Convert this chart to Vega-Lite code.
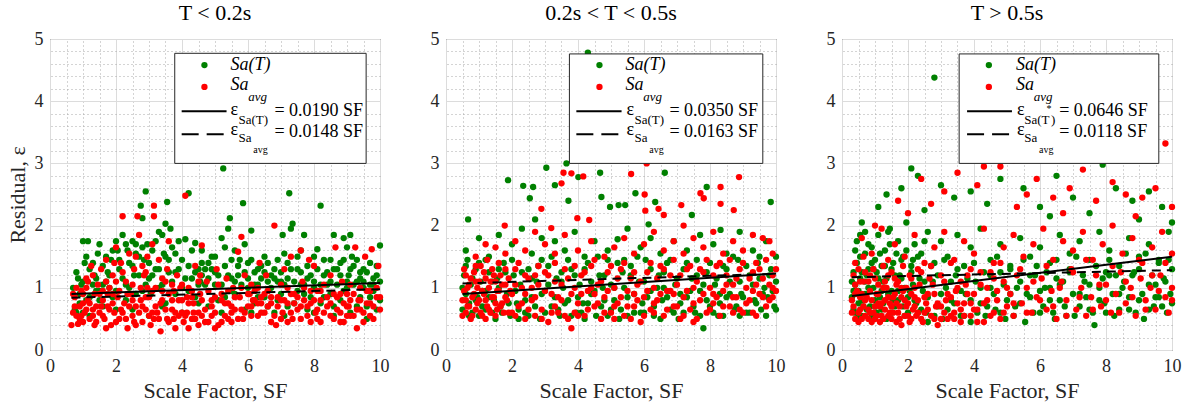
{
"$schema":"https://vega.github.io/schema/vega-lite/v6.json",
"background":"white",
"padding":{"left":5,"top":1,"right":5,"bottom":2},
"bounds":"flush",
"spacing":66,
"config":{
 "font":"Liberation Serif, Times New Roman, serif",
 "text":{"font":"Liberation Serif, Times New Roman, serif","color":"#000000"},
 "view":{"stroke":"#262626","strokeWidth":1},
 "axis":{"labelFont":"Liberation Serif, Times New Roman, serif","labelFontSize":18,"labelColor":"#262626","titleFont":"Liberation Serif, Times New Roman, serif","titleFontSize":22,"titleFontWeight":"normal","titleColor":"#262626","ticks":false,"domain":false,"gridColor":"#dcdcdc","gridOpacity":1,"labelPadding":7,"titlePadding":5,"labelFlush":false},
 "title":{"font":"Liberation Serif, Times New Roman, serif","fontSize":22,"fontWeight":"normal","color":"#000000","offset":5}
},
"datasets":{
"g1":[{"x":0.75,"y":0.65},{"x":0.85,"y":1.15},{"x":0.9,"y":0.9},{"x":1.0,"y":1.75},{"x":1.05,"y":1.4},{"x":1.15,"y":1.75},{"x":1.2,"y":1.3},{"x":1.1,"y":0.8},{"x":1.3,"y":1.05},{"x":1.35,"y":1.2},{"x":1.45,"y":1.55},{"x":1.5,"y":0.95},{"x":1.6,"y":1.35},{"x":1.7,"y":1.1},{"x":1.75,"y":1.25},{"x":1.85,"y":1.45},{"x":1.9,"y":0.85},{"x":2.0,"y":1.75},{"x":2.05,"y":1.6},{"x":2.1,"y":1.3},{"x":2.2,"y":1.85},{"x":2.3,"y":1.05},{"x":2.35,"y":1.6},{"x":2.4,"y":1.4},{"x":2.5,"y":1.75},{"x":2.55,"y":1.2},{"x":2.6,"y":1.7},{"x":2.7,"y":1.5},{"x":2.75,"y":2.32},{"x":2.8,"y":2.12},{"x":2.85,"y":1.45},{"x":2.9,"y":2.55},{"x":2.95,"y":1.7},{"x":3.0,"y":1.15},{"x":3.05,"y":0.9},{"x":3.1,"y":1.6},{"x":3.2,"y":1.3},{"x":3.3,"y":1.9},{"x":3.4,"y":1.85},{"x":3.45,"y":1.55},{"x":3.5,"y":2.03},{"x":3.55,"y":2.38},{"x":3.6,"y":1.45},{"x":3.65,"y":1.95},{"x":3.7,"y":1.65},{"x":3.8,"y":1.25},{"x":3.9,"y":1.75},{"x":4.0,"y":1.0},{"x":4.1,"y":1.78},{"x":4.2,"y":2.52},{"x":4.3,"y":1.15},{"x":4.4,"y":1.72},{"x":4.5,"y":1.3},{"x":4.55,"y":1.1},{"x":4.6,"y":1.6},{"x":4.7,"y":1.05},{"x":4.8,"y":1.4},{"x":4.9,"y":1.5},{"x":5.0,"y":1.25},{"x":5.1,"y":0.8},{"x":5.2,"y":1.8},{"x":5.25,"y":2.92},{"x":5.3,"y":1.65},{"x":5.4,"y":1.95},{"x":5.45,"y":2.12},{"x":5.5,"y":1.15},{"x":5.6,"y":1.6},{"x":5.7,"y":1.2},{"x":5.75,"y":1.45},{"x":5.85,"y":2.36},{"x":5.9,"y":1.7},{"x":6.0,"y":1.4},{"x":6.1,"y":1.92},{"x":6.2,"y":1.25},{"x":6.3,"y":1.05},{"x":6.4,"y":1.35},{"x":6.5,"y":1.5},{"x":6.6,"y":0.95},{"x":6.7,"y":1.2},{"x":6.8,"y":1.3},{"x":6.9,"y":1.1},{"x":7.0,"y":0.9},{"x":7.05,"y":1.85},{"x":7.1,"y":1.55},{"x":7.2,"y":1.4},{"x":7.25,"y":2.52},{"x":7.3,"y":1.95},{"x":7.35,"y":2.03},{"x":7.5,"y":1.3},{"x":7.6,"y":1.6},{"x":7.7,"y":1.85},{"x":7.8,"y":1.15},{"x":7.9,"y":0.85},{"x":8.0,"y":1.5},{"x":8.1,"y":1.62},{"x":8.2,"y":2.32},{"x":8.3,"y":1.2},{"x":8.4,"y":1.05},{"x":8.5,"y":1.45},{"x":8.6,"y":1.85},{"x":8.7,"y":1.3},{"x":8.8,"y":1.4},{"x":8.9,"y":1.8},{"x":9.0,"y":1.65},{"x":9.05,"y":1.2},{"x":9.1,"y":1.85},{"x":9.15,"y":1.5},{"x":9.2,"y":1.35},{"x":9.3,"y":1.1},{"x":9.4,"y":1.25},{"x":9.5,"y":1.3},{"x":9.6,"y":0.5},{"x":9.7,"y":1.05},{"x":9.8,"y":1.15},{"x":9.9,"y":1.35},{"x":10.0,"y":1.68},{"x":10.0,"y":0.8},{"x":0.8,"y":0.6},{"x":1.2,"y":0.55},{"x":1.6,"y":0.7},{"x":2.0,"y":0.65},{"x":2.6,"y":0.9},{"x":3.0,"y":0.55},{"x":3.5,"y":0.75},{"x":4.0,"y":0.6},{"x":4.4,"y":0.85},{"x":4.8,"y":0.7},{"x":5.2,"y":0.6},{"x":5.5,"y":0.95},{"x":5.9,"y":0.65},{"x":6.2,"y":0.75},{"x":6.5,"y":0.85},{"x":6.8,"y":0.6},{"x":7.2,"y":0.7},{"x":7.5,"y":0.95},{"x":7.8,"y":0.65},{"x":8.2,"y":0.75},{"x":8.6,"y":0.55},{"x":8.9,"y":0.95},{"x":9.3,"y":0.7},{"x":9.7,"y":0.85},{"x":1.4,"y":0.95},{"x":2.3,"y":0.8},{"x":3.3,"y":1.0},{"x":4.2,"y":0.95},{"x":5.0,"y":1.05},{"x":6.0,"y":1.0},{"x":7.0,"y":1.1},{"x":8.0,"y":1.0},{"x":9.0,"y":1.0},{"x":9.8,"y":0.95},{"x":0.95,"y":1.05},{"x":1.8,"y":1.0},{"x":2.8,"y":0.95},{"x":3.8,"y":0.9},{"x":4.6,"y":1.2},{"x":5.6,"y":0.9},{"x":6.6,"y":1.1},{"x":7.6,"y":1.05},{"x":8.5,"y":0.9},{"x":9.5,"y":1.1},{"x":0.7,"y":1.0},{"x":0.8,"y":1.25},{"x":0.9,"y":0.75},{"x":1.0,"y":1.1},{"x":1.1,"y":1.5},{"x":1.2,"y":0.85},{"x":1.3,"y":1.4},{"x":1.4,"y":1.15},{"x":1.5,"y":1.7},{"x":1.6,"y":1.05},{"x":1.7,"y":1.5},{"x":1.8,"y":1.2},{"x":1.9,"y":1.6},{"x":2.0,"y":0.95},{"x":2.1,"y":1.45},{"x":2.2,"y":1.15},{"x":2.3,"y":1.7},{"x":2.4,"y":1.0},{"x":2.5,"y":1.35},{"x":2.6,"y":1.55},{"x":2.7,"y":1.2},{"x":2.8,"y":1.65},{"x":2.9,"y":1.05},{"x":3.0,"y":1.4},{"x":3.1,"y":1.2},{"x":3.2,"y":1.75},{"x":3.3,"y":1.3},{"x":3.4,"y":1.05},{"x":3.5,"y":1.5},{"x":3.6,"y":1.25},{"x":3.7,"y":1.1},{"x":3.8,"y":1.55},{"x":3.9,"y":1.3},{"x":4.0,"y":1.45},{"x":4.1,"y":1.15},{"x":4.2,"y":1.35},{"x":4.3,"y":1.6},{"x":4.4,"y":1.25},{"x":4.5,"y":1.05},{"x":4.6,"y":1.4},{"x":4.7,"y":1.3},{"x":4.8,"y":1.15},{"x":4.9,"y":1.3},{"x":5.0,"y":1.5},{"x":5.1,"y":1.2},{"x":5.2,"y":1.05},{"x":5.3,"y":1.35},{"x":5.4,"y":1.2},{"x":5.5,"y":1.45},{"x":5.6,"y":1.1},{"x":5.7,"y":1.35},{"x":5.8,"y":1.05},{"x":5.9,"y":1.25},{"x":6.0,"y":1.15},{"x":6.1,"y":1.45},{"x":6.2,"y":1.05},{"x":6.3,"y":1.3},{"x":6.4,"y":1.15},{"x":6.5,"y":1.25},{"x":6.6,"y":1.4},{"x":6.7,"y":1.0},{"x":6.8,"y":1.15},{"x":6.9,"y":1.45},{"x":7.0,"y":1.25},{"x":7.1,"y":1.05},{"x":7.2,"y":1.15},{"x":7.3,"y":1.3},{"x":7.4,"y":1.1},{"x":7.5,"y":1.5},{"x":7.6,"y":1.25},{"x":7.7,"y":1.05},{"x":7.8,"y":1.35},{"x":7.9,"y":1.2},{"x":8.0,"y":1.1},{"x":8.1,"y":1.3},{"x":8.2,"y":1.05},{"x":8.3,"y":1.45},{"x":8.4,"y":1.25},{"x":8.5,"y":1.1},{"x":8.6,"y":1.3},{"x":8.7,"y":1.05},{"x":8.8,"y":1.2},{"x":8.9,"y":1.45},{"x":9.0,"y":1.1},{"x":9.1,"y":1.3},{"x":9.2,"y":1.05},{"x":9.3,"y":1.45},{"x":9.4,"y":1.15},{"x":9.5,"y":1.0},{"x":9.6,"y":1.25},{"x":9.7,"y":1.4},{"x":9.8,"y":1.05},{"x":9.9,"y":1.2},{"x":10.0,"y":1.1},{"x":6.1,"y":0.6},{"x":6.3,"y":0.85},{"x":6.6,"y":0.7},{"x":6.9,"y":0.8},{"x":7.1,"y":0.55},{"x":7.4,"y":0.75},{"x":7.7,"y":0.9},{"x":8.0,"y":0.6},{"x":8.3,"y":0.85},{"x":8.6,"y":0.7},{"x":8.8,"y":0.8},{"x":9.1,"y":0.6},{"x":9.4,"y":0.85},{"x":9.6,"y":0.7},{"x":9.9,"y":0.65},{"x":1.0,"y":0.6},{"x":1.5,"y":0.8},{"x":2.5,"y":0.65},{"x":3.4,"y":0.7},{"x":4.5,"y":0.75},{"x":5.3,"y":0.85}],
"r1":[{"x":0.65,"y":0.4},{"x":0.75,"y":0.85},{"x":0.8,"y":0.55},{"x":0.85,"y":0.42},{"x":0.9,"y":0.7},{"x":0.95,"y":0.95},{"x":1.0,"y":0.45},{"x":1.05,"y":0.6},{"x":1.1,"y":1.15},{"x":1.15,"y":0.8},{"x":1.2,"y":0.5},{"x":1.25,"y":1.35},{"x":1.3,"y":0.65},{"x":1.35,"y":0.9},{"x":1.4,"y":0.45},{"x":1.45,"y":1.05},{"x":1.5,"y":0.6},{"x":1.55,"y":1.3},{"x":1.6,"y":0.8},{"x":1.65,"y":0.5},{"x":1.7,"y":1.45},{"x":1.75,"y":0.7},{"x":1.8,"y":1.0},{"x":1.85,"y":0.4},{"x":1.9,"y":1.2},{"x":1.95,"y":0.6},{"x":2.0,"y":1.65},{"x":2.05,"y":0.85},{"x":2.1,"y":0.5},{"x":2.15,"y":1.4},{"x":2.2,"y":2.15},{"x":2.25,"y":0.75},{"x":2.3,"y":1.1},{"x":2.35,"y":0.35},{"x":2.4,"y":1.55},{"x":2.45,"y":0.9},{"x":2.5,"y":0.55},{"x":2.55,"y":1.3},{"x":2.6,"y":0.7},{"x":2.65,"y":2.15},{"x":2.7,"y":1.85},{"x":2.75,"y":1.0},{"x":2.8,"y":0.45},{"x":2.85,"y":1.2},{"x":2.9,"y":0.65},{"x":2.95,"y":1.5},{"x":3.0,"y":0.85},{"x":3.05,"y":0.4},{"x":3.1,"y":1.7},{"x":3.15,"y":2.32},{"x":3.15,"y":2.15},{"x":3.2,"y":1.0},{"x":3.25,"y":0.6},{"x":3.3,"y":1.45},{"x":3.35,"y":0.3},{"x":3.4,"y":0.8},{"x":3.5,"y":1.1},{"x":3.55,"y":0.5},{"x":3.6,"y":1.75},{"x":3.7,"y":0.65},{"x":3.75,"y":0.95},{"x":3.8,"y":0.35},{"x":3.85,"y":1.2},{"x":3.9,"y":0.55},{"x":4.0,"y":0.8},{"x":4.05,"y":0.45},{"x":4.1,"y":2.48},{"x":4.15,"y":0.6},{"x":4.2,"y":1.0},{"x":4.3,"y":0.5},{"x":4.35,"y":0.75},{"x":4.4,"y":1.35},{"x":4.5,"y":0.4},{"x":4.55,"y":0.9},{"x":4.6,"y":1.68},{"x":4.7,"y":0.65},{"x":4.75,"y":1.1},{"x":4.8,"y":0.45},{"x":4.9,"y":0.8},{"x":5.0,"y":0.6},{"x":5.05,"y":1.3},{"x":5.1,"y":0.4},{"x":5.2,"y":0.9},{"x":5.3,"y":0.55},{"x":5.35,"y":1.15},{"x":5.4,"y":0.75},{"x":5.5,"y":0.45},{"x":5.55,"y":1.0},{"x":5.6,"y":0.65},{"x":5.7,"y":1.58},{"x":5.75,"y":0.85},{"x":5.8,"y":1.82},{"x":5.85,"y":0.5},{"x":5.9,"y":1.2},{"x":6.0,"y":0.7},{"x":6.05,"y":0.9},{"x":6.1,"y":1.05},{"x":6.15,"y":0.8},{"x":6.2,"y":0.95},{"x":6.3,"y":0.75},{"x":6.35,"y":1.4},{"x":6.4,"y":0.6},{"x":6.5,"y":0.9},{"x":6.55,"y":1.2},{"x":6.6,"y":0.7},{"x":6.7,"y":0.45},{"x":6.8,"y":2.0},{"x":6.85,"y":0.4},{"x":6.9,"y":0.85},{"x":7.0,"y":1.05},{"x":7.05,"y":0.6},{"x":7.1,"y":1.3},{"x":7.2,"y":0.75},{"x":7.3,"y":1.5},{"x":7.35,"y":0.5},{"x":7.4,"y":0.9},{"x":7.5,"y":0.65},{"x":7.6,"y":1.6},{"x":7.65,"y":1.1},{"x":7.7,"y":0.8},{"x":7.8,"y":0.55},{"x":7.85,"y":1.45},{"x":7.9,"y":0.75},{"x":8.0,"y":1.35},{"x":8.05,"y":0.6},{"x":8.1,"y":0.95},{"x":8.2,"y":0.45},{"x":8.3,"y":1.05},{"x":8.4,"y":0.7},{"x":8.5,"y":1.2},{"x":8.6,"y":0.5},{"x":8.65,"y":1.65},{"x":8.7,"y":0.85},{"x":8.8,"y":0.6},{"x":8.85,"y":1.1},{"x":8.9,"y":0.45},{"x":9.0,"y":0.9},{"x":9.05,"y":0.7},{"x":9.1,"y":1.05},{"x":9.2,"y":0.55},{"x":9.25,"y":1.65},{"x":9.3,"y":0.35},{"x":9.35,"y":0.8},{"x":9.4,"y":1.0},{"x":9.5,"y":0.6},{"x":9.55,"y":1.5},{"x":9.6,"y":0.75},{"x":9.7,"y":0.95},{"x":9.75,"y":1.62},{"x":9.8,"y":0.7},{"x":9.9,"y":0.85},{"x":9.95,"y":1.35},{"x":10.0,"y":0.85},{"x":0.7,"y":0.9},{"x":1.0,"y":0.75},{"x":1.3,"y":0.55},{"x":1.6,"y":0.95},{"x":1.9,"y":0.75},{"x":2.2,"y":0.6},{"x":2.5,"y":0.8},{"x":2.8,"y":0.7},{"x":3.1,"y":0.6},{"x":3.4,"y":0.95},{"x":3.7,"y":0.8},{"x":4.0,"y":0.6},{"x":4.3,"y":0.95},{"x":4.6,"y":0.55},{"x":4.9,"y":0.7},{"x":5.2,"y":0.8},{"x":5.5,"y":0.7},{"x":5.8,"y":0.65},{"x":6.1,"y":0.7},{"x":6.4,"y":0.85},{"x":6.7,"y":0.75},{"x":7.0,"y":0.8},{"x":7.3,"y":0.9},{"x":7.6,"y":0.7},{"x":7.9,"y":0.95},{"x":8.2,"y":0.8},{"x":8.5,"y":0.75},{"x":8.8,"y":0.9},{"x":9.1,"y":0.8},{"x":9.4,"y":0.65},{"x":9.7,"y":0.55},{"x":1.1,"y":1.0},{"x":2.0,"y":1.1},{"x":2.9,"y":1.25},{"x":3.6,"y":0.45},{"x":4.5,"y":0.6},{"x":5.4,"y":0.5},{"x":6.3,"y":0.55},{"x":7.2,"y":0.45},{"x":8.1,"y":0.5},{"x":9.0,"y":0.55},{"x":1.7,"y":0.35},{"x":2.6,"y":0.4},{"x":4.2,"y":0.35},{"x":5.0,"y":0.35},{"x":0.7,"y":0.6},{"x":0.8,"y":1.0},{"x":0.9,"y":0.5},{"x":1.0,"y":0.9},{"x":1.1,"y":0.65},{"x":1.2,"y":0.75},{"x":1.3,"y":1.2},{"x":1.4,"y":0.7},{"x":1.5,"y":0.9},{"x":1.6,"y":0.55},{"x":1.7,"y":1.1},{"x":1.8,"y":0.65},{"x":1.9,"y":0.9},{"x":2.0,"y":0.45},{"x":2.1,"y":0.95},{"x":2.2,"y":1.25},{"x":2.3,"y":0.5},{"x":2.4,"y":0.7},{"x":2.5,"y":1.05},{"x":2.6,"y":1.5},{"x":2.7,"y":0.6},{"x":2.8,"y":1.35},{"x":2.9,"y":0.85},{"x":3.0,"y":0.55},{"x":3.1,"y":0.95},{"x":3.2,"y":0.7},{"x":3.3,"y":0.5},{"x":3.4,"y":1.15},{"x":3.5,"y":0.65},{"x":3.6,"y":0.9},{"x":3.7,"y":1.05},{"x":3.8,"y":0.6},{"x":3.9,"y":0.8},{"x":4.0,"y":1.05},{"x":4.1,"y":0.55},{"x":4.2,"y":0.75},{"x":4.3,"y":0.85},{"x":4.4,"y":0.5},{"x":4.5,"y":1.1},{"x":4.6,"y":0.8},{"x":4.7,"y":0.45},{"x":4.8,"y":0.95},{"x":4.9,"y":0.55},{"x":5.0,"y":0.85},{"x":5.1,"y":1.05},{"x":5.2,"y":0.45},{"x":5.3,"y":0.75},{"x":5.4,"y":0.95},{"x":5.5,"y":0.6},{"x":5.6,"y":0.85},{"x":5.7,"y":0.5},{"x":5.8,"y":1.0},{"x":5.9,"y":0.6},{"x":6.0,"y":0.9},{"x":6.1,"y":0.55},{"x":6.2,"y":0.8},{"x":6.3,"y":1.0},{"x":6.4,"y":0.75},{"x":6.5,"y":0.6},{"x":6.6,"y":0.95},{"x":6.7,"y":0.85},{"x":6.8,"y":0.55},{"x":6.9,"y":0.7},{"x":7.0,"y":0.5},{"x":7.1,"y":0.8},{"x":7.2,"y":1.0},{"x":7.3,"y":0.6},{"x":7.4,"y":0.75},{"x":7.5,"y":0.85},{"x":7.6,"y":0.5},{"x":7.7,"y":1.0},{"x":7.8,"y":0.7},{"x":7.9,"y":0.45},{"x":8.0,"y":0.8},{"x":8.1,"y":0.65},{"x":8.2,"y":0.95},{"x":8.3,"y":0.6},{"x":8.4,"y":0.85},{"x":8.5,"y":0.55},{"x":8.6,"y":0.9},{"x":8.7,"y":0.65},{"x":8.8,"y":0.45},{"x":8.9,"y":0.75},{"x":9.0,"y":0.7},{"x":9.1,"y":0.55},{"x":9.2,"y":0.9},{"x":9.3,"y":0.65},{"x":9.4,"y":0.8},{"x":9.5,"y":0.45},{"x":9.6,"y":0.95},{"x":9.7,"y":0.75},{"x":9.8,"y":0.5},{"x":9.9,"y":1.0},{"x":10.0,"y":0.65},{"x":0.75,"y":0.7},{"x":0.95,"y":0.55},{"x":1.15,"y":1.1},{"x":1.35,"y":0.4},{"x":1.55,"y":0.7},{"x":1.75,"y":0.9},{"x":1.95,"y":1.4},{"x":2.15,"y":0.65},{"x":2.35,"y":0.9},{"x":2.55,"y":0.45},{"x":2.75,"y":0.8},{"x":2.95,"y":1.0},{"x":3.15,"y":0.5},{"x":3.35,"y":0.75},{"x":3.55,"y":1.3},{"x":3.75,"y":0.5},{"x":3.95,"y":1.0},{"x":4.15,"y":0.85},{"x":4.35,"y":0.6},{"x":4.55,"y":1.2}],
"g2":[{"x":0.67,"y":2.1},{"x":1.88,"y":2.73},{"x":2.34,"y":2.64},{"x":2.54,"y":2.44},{"x":2.64,"y":2.62},{"x":2.7,"y":2.1},{"x":3.04,"y":2.93},{"x":3.3,"y":2.65},{"x":3.65,"y":3.0},{"x":3.71,"y":2.4},{"x":4.01,"y":2.78},{"x":4.67,"y":2.85},{"x":4.71,"y":2.46},{"x":4.97,"y":2.3},{"x":5.23,"y":2.33},{"x":5.43,"y":2.33},{"x":5.74,"y":2.52},{"x":6.14,"y":2.02},{"x":6.34,"y":2.38},{"x":6.63,"y":2.85},{"x":7.45,"y":2.17},{"x":7.9,"y":2.62},{"x":8.32,"y":1.93},{"x":9.84,"y":2.38},{"x":4.3,"y":4.78},{"x":1.0,"y":1.8},{"x":1.3,"y":1.5},{"x":1.6,"y":1.85},{"x":2.0,"y":1.7},{"x":2.3,"y":1.95},{"x":2.6,"y":1.55},{"x":2.9,"y":1.8},{"x":3.3,"y":1.75},{"x":3.6,"y":1.6},{"x":3.9,"y":1.9},{"x":4.2,"y":1.5},{"x":4.5,"y":1.75},{"x":4.9,"y":1.6},{"x":5.2,"y":1.78},{"x":5.5,"y":1.95},{"x":5.9,"y":1.65},{"x":6.2,"y":1.8},{"x":6.5,"y":1.55},{"x":6.9,"y":1.75},{"x":7.3,"y":1.6},{"x":7.7,"y":1.85},{"x":8.1,"y":1.7},{"x":8.5,"y":1.55},{"x":8.9,"y":1.9},{"x":9.3,"y":1.6},{"x":9.7,"y":1.75},{"x":10.0,"y":1.5},{"x":0.6,"y":1.6},{"x":1.2,"y":1.45},{"x":0.5,"y":0.65},{"x":0.55,"y":1.2},{"x":0.6,"y":0.9},{"x":0.7,"y":0.75},{"x":0.75,"y":1.05},{"x":0.8,"y":0.6},{"x":0.9,"y":1.3},{"x":0.95,"y":0.85},{"x":1.05,"y":1.1},{"x":1.1,"y":0.7},{"x":1.2,"y":0.95},{"x":1.3,"y":1.25},{"x":1.4,"y":0.6},{"x":1.45,"y":0.8},{"x":1.55,"y":1.15},{"x":1.65,"y":0.7},{"x":1.75,"y":1.4},{"x":1.85,"y":0.9},{"x":1.95,"y":0.55},{"x":2.05,"y":1.2},{"x":2.15,"y":0.75},{"x":2.25,"y":1.05},{"x":2.4,"y":0.6},{"x":2.5,"y":1.3},{"x":2.6,"y":0.85},{"x":2.75,"y":1.1},{"x":2.85,"y":0.5},{"x":3.0,"y":0.95},{"x":3.1,"y":1.35},{"x":3.2,"y":0.7},{"x":3.35,"y":1.15},{"x":3.45,"y":0.55},{"x":3.55,"y":1.0},{"x":3.7,"y":0.8},{"x":3.8,"y":1.3},{"x":3.95,"y":0.6},{"x":4.05,"y":1.05},{"x":4.15,"y":0.75},{"x":4.3,"y":1.4},{"x":4.4,"y":0.9},{"x":4.55,"y":0.55},{"x":4.65,"y":1.2},{"x":4.8,"y":0.8},{"x":4.9,"y":1.45},{"x":5.0,"y":0.65},{"x":5.1,"y":1.0},{"x":5.25,"y":0.5},{"x":5.35,"y":1.25},{"x":5.5,"y":0.85},{"x":5.6,"y":1.35},{"x":5.7,"y":0.6},{"x":5.85,"y":1.1},{"x":5.95,"y":0.75},{"x":6.05,"y":1.45},{"x":6.2,"y":0.95},{"x":6.3,"y":0.55},{"x":6.45,"y":1.2},{"x":6.55,"y":0.8},{"x":6.7,"y":1.4},{"x":6.8,"y":0.65},{"x":6.95,"y":1.05},{"x":7.05,"y":0.5},{"x":7.2,"y":1.3},{"x":7.3,"y":0.85},{"x":7.45,"y":1.15},{"x":7.55,"y":0.6},{"x":7.7,"y":0.95},{"x":7.8,"y":0.35},{"x":7.9,"y":1.25},{"x":8.0,"y":0.7},{"x":8.15,"y":1.05},{"x":8.25,"y":0.55},{"x":8.4,"y":1.35},{"x":8.5,"y":0.85},{"x":8.6,"y":1.1},{"x":8.75,"y":0.65},{"x":8.85,"y":1.45},{"x":8.95,"y":0.9},{"x":9.1,"y":0.6},{"x":9.2,"y":1.2},{"x":9.35,"y":0.8},{"x":9.45,"y":1.4},{"x":9.55,"y":0.65},{"x":9.65,"y":1.0},{"x":9.75,"y":0.85},{"x":9.85,"y":1.3},{"x":9.95,"y":0.7},{"x":10.0,"y":1.1},{"x":0.65,"y":1.45},{"x":1.0,"y":0.55},{"x":1.6,"y":1.3},{"x":2.2,"y":0.5},{"x":2.9,"y":1.45},{"x":3.5,"y":1.25},{"x":4.2,"y":0.5},{"x":4.75,"y":1.0},{"x":5.4,"y":1.45},{"x":6.0,"y":0.6},{"x":6.6,"y":1.0},{"x":7.1,"y":0.75},{"x":7.6,"y":1.45},{"x":8.3,"y":0.9},{"x":8.9,"y":0.55},{"x":9.5,"y":1.15},{"x":0.5,"y":1.0},{"x":0.6,"y":1.35},{"x":0.7,"y":0.55},{"x":0.8,"y":1.15},{"x":0.9,"y":0.8},{"x":1.0,"y":1.4},{"x":1.1,"y":0.95},{"x":1.2,"y":0.65},{"x":1.3,"y":0.85},{"x":1.4,"y":1.1},{"x":1.5,"y":0.5},{"x":1.6,"y":1.0},{"x":1.7,"y":0.6},{"x":1.8,"y":1.25},{"x":1.9,"y":0.75},{"x":2.0,"y":1.45},{"x":2.1,"y":0.95},{"x":2.2,"y":0.65},{"x":2.3,"y":1.25},{"x":2.4,"y":0.8},{"x":2.5,"y":0.55},{"x":2.6,"y":1.15},{"x":2.7,"y":0.7},{"x":2.8,"y":1.35},{"x":2.9,"y":0.9},{"x":3.0,"y":0.6},{"x":3.1,"y":1.05},{"x":3.2,"y":1.5},{"x":3.3,"y":0.85},{"x":3.4,"y":0.65},{"x":3.5,"y":1.1},{"x":3.6,"y":0.75},{"x":3.7,"y":1.45},{"x":3.8,"y":0.55},{"x":3.9,"y":1.2},{"x":4.0,"y":0.85},{"x":4.1,"y":0.6},{"x":4.2,"y":1.3},{"x":4.3,"y":0.75},{"x":4.4,"y":1.1},{"x":4.5,"y":0.95},{"x":4.6,"y":1.5},{"x":4.7,"y":0.7},{"x":4.8,"y":1.2},{"x":4.9,"y":0.55},{"x":5.0,"y":1.05},{"x":5.1,"y":0.8},{"x":5.2,"y":1.4},{"x":5.3,"y":0.65},{"x":5.4,"y":1.0},{"x":5.5,"y":0.55},{"x":5.6,"y":1.2},{"x":5.7,"y":0.9},{"x":5.8,"y":1.5},{"x":5.9,"y":0.6},{"x":6.0,"y":1.1},{"x":6.1,"y":0.85},{"x":6.2,"y":1.3},{"x":6.3,"y":0.7},{"x":6.4,"y":1.0},{"x":6.5,"y":0.5},{"x":6.6,"y":1.25},{"x":6.7,"y":0.85},{"x":6.8,"y":1.45},{"x":6.9,"y":0.6},{"x":7.0,"y":1.15},{"x":7.1,"y":0.9},{"x":7.2,"y":0.6},{"x":7.3,"y":1.4},{"x":7.4,"y":0.95},{"x":7.5,"y":0.7},{"x":7.6,"y":1.2},{"x":7.7,"y":0.55},{"x":7.8,"y":1.05},{"x":7.9,"y":0.8},{"x":8.0,"y":1.4},{"x":8.1,"y":0.6},{"x":8.2,"y":1.15},{"x":8.3,"y":0.75},{"x":8.4,"y":0.55},{"x":8.5,"y":1.3},{"x":8.6,"y":0.9},{"x":8.7,"y":1.5},{"x":8.8,"y":0.7},{"x":8.9,"y":1.1},{"x":9.0,"y":0.85},{"x":9.1,"y":1.35},{"x":9.2,"y":0.6},{"x":9.3,"y":1.05},{"x":9.4,"y":0.75},{"x":9.5,"y":1.5},{"x":9.6,"y":0.9},{"x":9.7,"y":0.55},{"x":9.8,"y":1.2},{"x":9.9,"y":0.95},{"x":10.0,"y":0.65}],
"r2":[{"x":1.78,"y":2.0},{"x":2.89,"y":2.27},{"x":3.19,"y":1.96},{"x":3.5,"y":2.68},{"x":3.56,"y":2.85},{"x":3.8,"y":2.84},{"x":4.16,"y":2.79},{"x":3.98,"y":2.12},{"x":4.34,"y":2.09},{"x":5.61,"y":2.83},{"x":6.02,"y":2.5},{"x":6.04,"y":2.24},{"x":6.08,"y":3.0},{"x":6.44,"y":2.27},{"x":6.6,"y":2.17},{"x":7.13,"y":2.33},{"x":7.2,"y":2.0},{"x":7.71,"y":2.52},{"x":7.81,"y":2.44},{"x":8.32,"y":2.62},{"x":8.88,"y":2.78},{"x":8.32,"y":2.35},{"x":8.72,"y":2.25},{"x":0.9,"y":1.5},{"x":1.2,"y":1.7},{"x":1.5,"y":1.65},{"x":1.8,"y":1.55},{"x":2.1,"y":1.75},{"x":2.4,"y":1.6},{"x":2.7,"y":1.9},{"x":3.0,"y":1.7},{"x":3.3,"y":1.55},{"x":3.6,"y":1.85},{"x":4.0,"y":1.6},{"x":4.4,"y":1.75},{"x":4.8,"y":1.5},{"x":5.1,"y":1.65},{"x":5.4,"y":1.8},{"x":5.7,"y":1.55},{"x":6.0,"y":1.7},{"x":6.3,"y":1.9},{"x":6.6,"y":1.6},{"x":6.9,"y":1.75},{"x":7.2,"y":1.55},{"x":7.5,"y":1.8},{"x":7.8,"y":1.65},{"x":8.1,"y":1.9},{"x":8.4,"y":1.55},{"x":8.7,"y":1.75},{"x":9.0,"y":1.6},{"x":9.3,"y":1.85},{"x":9.6,"y":1.8},{"x":9.9,"y":1.55},{"x":9.4,"y":1.4},{"x":9.8,"y":1.75},{"x":0.5,"y":0.55},{"x":0.55,"y":0.95},{"x":0.6,"y":1.2},{"x":0.65,"y":0.7},{"x":0.7,"y":1.05},{"x":0.75,"y":0.5},{"x":0.8,"y":0.85},{"x":0.85,"y":1.25},{"x":0.9,"y":0.65},{"x":0.95,"y":1.0},{"x":1.0,"y":0.8},{"x":1.05,"y":1.35},{"x":1.1,"y":0.55},{"x":1.15,"y":0.9},{"x":1.2,"y":1.15},{"x":1.25,"y":0.7},{"x":1.3,"y":1.0},{"x":1.35,"y":0.6},{"x":1.4,"y":1.3},{"x":1.45,"y":0.85},{"x":1.5,"y":1.1},{"x":1.55,"y":0.65},{"x":1.6,"y":0.95},{"x":1.65,"y":1.2},{"x":1.7,"y":0.75},{"x":1.8,"y":1.05},{"x":1.9,"y":0.6},{"x":2.0,"y":0.9},{"x":2.1,"y":1.3},{"x":2.2,"y":0.7},{"x":2.3,"y":1.0},{"x":2.4,"y":0.5},{"x":2.5,"y":1.15},{"x":2.6,"y":0.8},{"x":2.7,"y":0.55},{"x":2.8,"y":1.05},{"x":2.9,"y":0.65},{"x":3.0,"y":1.25},{"x":3.1,"y":0.45},{"x":3.2,"y":0.9},{"x":3.3,"y":1.1},{"x":3.4,"y":0.6},{"x":3.5,"y":0.8},{"x":3.6,"y":1.3},{"x":3.7,"y":0.5},{"x":3.8,"y":0.35},{"x":3.9,"y":1.0},{"x":4.0,"y":0.75},{"x":4.1,"y":1.2},{"x":4.2,"y":0.55},{"x":4.3,"y":0.95},{"x":4.4,"y":1.35},{"x":4.5,"y":0.7},{"x":4.6,"y":1.05},{"x":4.7,"y":0.5},{"x":4.8,"y":0.85},{"x":4.9,"y":1.25},{"x":5.0,"y":0.6},{"x":5.1,"y":1.0},{"x":5.2,"y":0.75},{"x":5.3,"y":1.3},{"x":5.4,"y":0.55},{"x":5.5,"y":0.95},{"x":5.6,"y":1.15},{"x":5.7,"y":0.7},{"x":5.8,"y":1.05},{"x":5.9,"y":0.45},{"x":6.0,"y":0.85},{"x":6.1,"y":1.25},{"x":6.2,"y":0.65},{"x":6.3,"y":1.0},{"x":6.4,"y":0.8},{"x":6.5,"y":1.35},{"x":6.6,"y":0.55},{"x":6.7,"y":0.95},{"x":6.8,"y":1.2},{"x":6.9,"y":0.7},{"x":7.0,"y":1.05},{"x":7.1,"y":0.5},{"x":7.2,"y":0.85},{"x":7.3,"y":1.3},{"x":7.4,"y":0.65},{"x":7.5,"y":0.45},{"x":7.6,"y":1.1},{"x":7.7,"y":0.8},{"x":7.8,"y":1.25},{"x":7.9,"y":0.6},{"x":8.0,"y":1.0},{"x":8.1,"y":0.75},{"x":8.2,"y":1.35},{"x":8.3,"y":0.55},{"x":8.4,"y":0.95},{"x":8.5,"y":1.2},{"x":8.6,"y":0.7},{"x":8.7,"y":1.05},{"x":8.8,"y":0.85},{"x":8.9,"y":1.3},{"x":9.0,"y":0.6},{"x":9.1,"y":1.0},{"x":9.2,"y":0.8},{"x":9.3,"y":1.25},{"x":9.4,"y":0.55},{"x":9.5,"y":0.9},{"x":9.6,"y":1.15},{"x":9.7,"y":0.7},{"x":9.8,"y":1.05},{"x":9.9,"y":0.85},{"x":10.0,"y":0.95},{"x":0.6,"y":0.8},{"x":0.9,"y":1.1},{"x":1.2,"y":0.5},{"x":1.5,"y":0.75},{"x":1.8,"y":0.85},{"x":2.1,"y":0.55},{"x":2.4,"y":0.9},{"x":2.7,"y":1.2},{"x":3.3,"y":0.7},{"x":3.9,"y":0.6},{"x":4.5,"y":0.9},{"x":5.1,"y":0.7},{"x":5.7,"y":0.9},{"x":6.3,"y":0.75},{"x":6.9,"y":0.9},{"x":7.5,"y":1.0},{"x":8.1,"y":0.9},{"x":8.7,"y":0.6},{"x":9.3,"y":0.95},{"x":9.9,"y":1.2},{"x":0.5,"y":0.8},{"x":0.55,"y":1.3},{"x":0.6,"y":0.6},{"x":0.65,"y":1.0},{"x":0.7,"y":0.7},{"x":0.75,"y":1.15},{"x":0.8,"y":0.55},{"x":0.85,"y":0.9},{"x":0.9,"y":1.35},{"x":0.95,"y":0.75},{"x":1.0,"y":1.1},{"x":1.05,"y":0.6},{"x":1.1,"y":0.95},{"x":1.15,"y":1.25},{"x":1.2,"y":0.8},{"x":1.25,"y":1.45},{"x":1.3,"y":0.65},{"x":1.35,"y":1.1},{"x":1.4,"y":0.85},{"x":1.45,"y":1.2},{"x":1.5,"y":0.55},{"x":1.55,"y":0.95},{"x":1.6,"y":1.4},{"x":1.65,"y":0.7},{"x":1.7,"y":1.05},{"x":1.75,"y":0.6},{"x":1.8,"y":1.3},{"x":1.85,"y":0.8},{"x":1.9,"y":1.15},{"x":1.95,"y":0.95},{"x":2.0,"y":0.6},{"x":2.1,"y":1.05},{"x":2.2,"y":1.4},{"x":2.3,"y":0.75},{"x":2.4,"y":1.2},{"x":2.5,"y":0.65},{"x":2.6,"y":1.0},{"x":2.7,"y":0.85},{"x":2.8,"y":1.35},{"x":2.9,"y":0.5},{"x":3.0,"y":0.95},{"x":3.1,"y":1.2},{"x":3.2,"y":0.6},{"x":3.3,"y":1.4},{"x":3.4,"y":0.85},{"x":3.5,"y":1.05},{"x":3.6,"y":0.55},{"x":3.7,"y":1.15},{"x":3.8,"y":0.9},{"x":3.9,"y":1.35},{"x":4.0,"y":0.55},{"x":4.1,"y":0.9},{"x":4.2,"y":1.25},{"x":4.3,"y":0.65},{"x":4.4,"y":1.0},{"x":4.5,"y":1.45},{"x":4.6,"y":0.75},{"x":4.7,"y":1.1},{"x":4.8,"y":0.6},{"x":4.9,"y":0.95},{"x":5.0,"y":1.35},{"x":5.1,"y":0.5},{"x":5.2,"y":1.15},{"x":5.3,"y":0.85},{"x":5.4,"y":1.4},{"x":5.5,"y":0.7},{"x":5.6,"y":0.5},{"x":5.7,"y":1.25},{"x":5.8,"y":0.8},{"x":5.9,"y":1.1},{"x":6.0,"y":0.55},{"x":6.1,"y":0.95},{"x":6.2,"y":1.4},{"x":6.3,"y":0.6},{"x":6.4,"y":1.15},{"x":6.5,"y":0.9},{"x":6.6,"y":1.3},{"x":6.7,"y":0.65},{"x":6.8,"y":0.95},{"x":6.9,"y":1.45},{"x":7.0,"y":0.7},{"x":7.1,"y":1.2},{"x":7.2,"y":0.55},{"x":7.3,"y":0.95},{"x":7.4,"y":1.35},{"x":7.5,"y":0.75},{"x":7.6,"y":0.5},{"x":7.7,"y":1.3},{"x":7.8,"y":0.9},{"x":7.9,"y":1.45},{"x":8.0,"y":0.65},{"x":8.1,"y":1.2},{"x":8.2,"y":0.85},{"x":8.3,"y":1.4},{"x":8.4,"y":0.7},{"x":8.5,"y":1.05},{"x":8.6,"y":1.45},{"x":8.7,"y":0.85},{"x":8.8,"y":1.15},{"x":8.9,"y":0.65},{"x":9.0,"y":1.4},{"x":9.1,"y":0.75},{"x":9.2,"y":1.15},{"x":9.3,"y":0.6},{"x":9.4,"y":1.05},{"x":9.5,"y":1.3},{"x":9.6,"y":0.85},{"x":9.7,"y":1.45},{"x":9.8,"y":0.8},{"x":9.9,"y":1.0},{"x":10.0,"y":1.3}],
"g3":[{"x":2.8,"y":4.38},{"x":2.1,"y":2.92},{"x":2.3,"y":2.8},{"x":1.35,"y":2.5},{"x":1.1,"y":2.3},{"x":0.6,"y":2.05},{"x":3.0,"y":2.65},{"x":3.4,"y":2.45},{"x":3.9,"y":2.55},{"x":4.4,"y":2.35},{"x":5.0,"y":3.3},{"x":5.5,"y":2.6},{"x":6.0,"y":2.3},{"x":6.5,"y":2.8},{"x":7.0,"y":2.45},{"x":7.9,"y":2.98},{"x":8.3,"y":2.6},{"x":8.8,"y":2.4},{"x":9.3,"y":2.55},{"x":9.7,"y":2.3},{"x":10.0,"y":2.05},{"x":1.8,"y":2.6},{"x":2.5,"y":2.25},{"x":4.8,"y":2.75},{"x":6.3,"y":2.15},{"x":7.5,"y":2.2},{"x":9.0,"y":2.1},{"x":0.35,"y":1.25},{"x":0.45,"y":1.75},{"x":0.55,"y":1.5},{"x":0.7,"y":1.9},{"x":0.8,"y":1.3},{"x":0.9,"y":1.65},{"x":1.0,"y":1.45},{"x":1.1,"y":1.85},{"x":1.2,"y":1.35},{"x":1.3,"y":1.6},{"x":1.45,"y":1.95},{"x":1.55,"y":1.4},{"x":1.7,"y":1.75},{"x":1.85,"y":1.5},{"x":1.95,"y":2.05},{"x":2.1,"y":1.35},{"x":2.2,"y":1.7},{"x":2.4,"y":1.55},{"x":2.6,"y":1.9},{"x":2.8,"y":1.4},{"x":3.0,"y":1.75},{"x":3.2,"y":1.5},{"x":3.5,"y":1.85},{"x":3.7,"y":1.35},{"x":3.9,"y":1.65},{"x":4.2,"y":1.95},{"x":4.5,"y":1.45},{"x":4.8,"y":1.7},{"x":5.1,"y":1.35},{"x":5.4,"y":1.8},{"x":5.7,"y":1.5},{"x":6.0,"y":1.65},{"x":6.3,"y":1.4},{"x":6.6,"y":1.85},{"x":6.9,"y":1.55},{"x":7.2,"y":1.75},{"x":7.5,"y":1.45},{"x":7.8,"y":1.9},{"x":8.1,"y":1.6},{"x":8.4,"y":1.35},{"x":8.7,"y":1.8},{"x":9.0,"y":1.5},{"x":9.3,"y":1.7},{"x":9.6,"y":1.45},{"x":9.9,"y":1.9},{"x":9.5,"y":1.05},{"x":8.0,"y":1.25},{"x":6.5,"y":1.15},{"x":0.3,"y":0.85},{"x":0.35,"y":0.65},{"x":0.4,"y":1.05},{"x":0.5,"y":0.75},{"x":0.55,"y":1.15},{"x":0.6,"y":0.55},{"x":0.7,"y":0.9},{"x":0.75,"y":1.2},{"x":0.85,"y":0.7},{"x":0.95,"y":1.0},{"x":1.05,"y":0.6},{"x":1.15,"y":0.85},{"x":1.25,"y":1.1},{"x":1.35,"y":0.5},{"x":1.5,"y":0.95},{"x":1.6,"y":0.7},{"x":1.75,"y":1.2},{"x":1.9,"y":0.55},{"x":2.0,"y":0.85},{"x":2.15,"y":1.05},{"x":2.3,"y":0.6},{"x":2.45,"y":0.95},{"x":2.6,"y":0.45},{"x":2.75,"y":1.1},{"x":2.9,"y":0.7},{"x":3.05,"y":0.5},{"x":3.15,"y":1.0},{"x":3.3,"y":0.8},{"x":3.45,"y":1.2},{"x":3.6,"y":0.55},{"x":3.75,"y":0.9},{"x":3.9,"y":0.45},{"x":4.05,"y":1.1},{"x":4.2,"y":0.75},{"x":4.35,"y":0.55},{"x":4.5,"y":1.0},{"x":4.65,"y":0.65},{"x":4.8,"y":1.25},{"x":4.95,"y":0.5},{"x":5.1,"y":0.9},{"x":5.25,"y":0.7},{"x":5.4,"y":1.1},{"x":5.55,"y":0.45},{"x":5.7,"y":0.85},{"x":5.85,"y":1.2},{"x":6.0,"y":0.6},{"x":6.15,"y":1.0},{"x":6.3,"y":0.8},{"x":6.45,"y":0.5},{"x":6.6,"y":1.05},{"x":6.75,"y":0.7},{"x":6.9,"y":1.25},{"x":7.05,"y":0.55},{"x":7.2,"y":0.9},{"x":7.35,"y":1.1},{"x":7.5,"y":0.65},{"x":7.65,"y":0.4},{"x":7.8,"y":1.0},{"x":7.95,"y":0.75},{"x":8.1,"y":1.2},{"x":8.25,"y":0.55},{"x":8.4,"y":0.9},{"x":8.55,"y":1.1},{"x":8.7,"y":0.65},{"x":8.85,"y":1.25},{"x":9.0,"y":0.8},{"x":9.15,"y":0.5},{"x":9.3,"y":1.05},{"x":9.45,"y":0.7},{"x":9.6,"y":0.85},{"x":9.75,"y":1.15},{"x":9.85,"y":0.6},{"x":9.95,"y":0.9},{"x":10.0,"y":0.75},{"x":0.3,"y":1.1},{"x":0.4,"y":0.6},{"x":0.45,"y":1.4},{"x":0.5,"y":0.95},{"x":0.6,"y":1.25},{"x":0.65,"y":0.7},{"x":0.7,"y":1.55},{"x":0.8,"y":1.0},{"x":0.9,"y":0.55},{"x":0.95,"y":1.3},{"x":1.0,"y":0.8},{"x":1.1,"y":1.15},{"x":1.2,"y":0.65},{"x":1.3,"y":1.35},{"x":1.4,"y":0.9},{"x":1.45,"y":1.7},{"x":1.5,"y":0.6},{"x":1.6,"y":1.2},{"x":1.7,"y":0.8},{"x":1.8,"y":1.45},{"x":1.9,"y":1.0},{"x":2.0,"y":0.6},{"x":2.1,"y":1.25},{"x":2.2,"y":0.8},{"x":2.3,"y":1.5},{"x":2.4,"y":0.65},{"x":2.5,"y":1.1},{"x":2.6,"y":0.85},{"x":2.7,"y":1.35},{"x":2.8,"y":0.55},{"x":2.9,"y":1.2},{"x":3.0,"y":0.9},{"x":3.1,"y":1.45},{"x":3.2,"y":0.65},{"x":3.3,"y":1.1},{"x":3.4,"y":0.75},{"x":3.5,"y":1.3},{"x":3.6,"y":0.95},{"x":3.7,"y":0.55},{"x":3.8,"y":1.15},{"x":3.9,"y":0.8},{"x":4.0,"y":1.4},{"x":4.1,"y":0.6},{"x":4.2,"y":1.0},{"x":4.3,"y":1.25},{"x":4.4,"y":0.7},{"x":4.5,"y":1.2},{"x":4.6,"y":0.9},{"x":4.7,"y":1.5},{"x":4.8,"y":0.6},{"x":4.9,"y":1.05},{"x":5.0,"y":0.8},{"x":5.1,"y":1.3},{"x":5.2,"y":0.55},{"x":5.3,"y":1.0},{"x":5.4,"y":0.75},{"x":5.5,"y":1.45},{"x":5.6,"y":0.9},{"x":5.7,"y":1.2},{"x":5.8,"y":0.6},{"x":5.9,"y":1.35},{"x":6.0,"y":0.95},{"x":6.1,"y":0.7},{"x":6.2,"y":1.25},{"x":6.3,"y":1.0},{"x":6.4,"y":0.6},{"x":6.5,"y":1.45},{"x":6.6,"y":0.8},{"x":6.7,"y":1.1},{"x":6.8,"y":0.55},{"x":6.9,"y":1.3},{"x":7.0,"y":0.9},{"x":7.1,"y":1.5},{"x":7.2,"y":0.7},{"x":7.3,"y":1.2},{"x":7.4,"y":0.85},{"x":7.5,"y":1.05},{"x":7.6,"y":0.6},{"x":7.7,"y":1.35},{"x":7.8,"y":0.8},{"x":7.9,"y":1.15},{"x":8.0,"y":0.6},{"x":8.1,"y":1.45},{"x":8.2,"y":0.9},{"x":8.3,"y":1.2},{"x":8.4,"y":0.65},{"x":8.5,"y":1.0},{"x":8.6,"y":1.55},{"x":8.7,"y":0.85},{"x":8.8,"y":1.2},{"x":8.9,"y":0.6},{"x":9.0,"y":1.3},{"x":9.1,"y":0.9},{"x":9.2,"y":1.55},{"x":9.3,"y":0.65},{"x":9.4,"y":1.2},{"x":9.5,"y":0.85},{"x":9.6,"y":1.4},{"x":9.7,"y":0.7},{"x":9.8,"y":1.1},{"x":9.9,"y":1.45},{"x":10.0,"y":1.3},{"x":0.35,"y":0.95},{"x":0.4,"y":1.6},{"x":0.5,"y":0.55},{"x":0.55,"y":1.85},{"x":0.6,"y":0.8},{"x":0.7,"y":1.1},{"x":0.75,"y":0.65},{"x":0.8,"y":1.7},{"x":0.85,"y":0.95},{"x":0.9,"y":1.4},{"x":1.0,"y":0.7},{"x":1.05,"y":1.25},{"x":1.15,"y":1.55},{"x":1.2,"y":0.95},{"x":1.25,"y":0.75},{"x":1.35,"y":1.15},{"x":1.4,"y":1.9},{"x":1.5,"y":1.3},{"x":1.55,"y":0.8},{"x":1.65,"y":1.55},{"x":1.7,"y":0.95},{"x":1.8,"y":1.15},{"x":1.85,"y":0.7},{"x":1.95,"y":1.6},{"x":2.05,"y":0.95},{"x":2.15,"y":1.45},{"x":2.25,"y":0.75},{"x":2.35,"y":1.15},{"x":2.5,"y":1.75},{"x":2.55,"y":0.6}],
"r3":[{"x":3.7,"y":3.35},{"x":4.5,"y":3.4},{"x":5.2,"y":3.05},{"x":9.8,"y":3.32},{"x":4.8,"y":2.95},{"x":2.4,"y":2.75},{"x":1.7,"y":2.4},{"x":2.0,"y":2.2},{"x":3.1,"y":2.55},{"x":3.5,"y":2.85},{"x":4.1,"y":2.65},{"x":4.3,"y":2.95},{"x":5.6,"y":2.5},{"x":5.9,"y":2.75},{"x":6.4,"y":2.45},{"x":6.9,"y":2.6},{"x":7.3,"y":2.9},{"x":7.7,"y":2.4},{"x":8.2,"y":2.7},{"x":8.6,"y":2.5},{"x":9.1,"y":2.45},{"x":9.5,"y":2.6},{"x":10.0,"y":2.3},{"x":1.0,"y":2.0},{"x":2.7,"y":2.35},{"x":5.3,"y":2.3},{"x":6.7,"y":2.2},{"x":8.9,"y":2.15},{"x":0.4,"y":1.4},{"x":0.6,"y":1.8},{"x":0.9,"y":1.55},{"x":1.2,"y":1.95},{"x":1.4,"y":1.45},{"x":1.6,"y":1.7},{"x":1.9,"y":1.5},{"x":2.2,"y":1.85},{"x":2.5,"y":1.4},{"x":2.8,"y":1.65},{"x":3.1,"y":1.9},{"x":3.4,"y":1.45},{"x":3.7,"y":1.75},{"x":4.0,"y":1.55},{"x":4.3,"y":1.95},{"x":4.6,"y":1.4},{"x":4.9,"y":1.65},{"x":5.2,"y":1.85},{"x":5.5,"y":1.5},{"x":5.8,"y":1.7},{"x":6.1,"y":1.95},{"x":6.4,"y":1.45},{"x":6.7,"y":1.75},{"x":7.0,"y":1.6},{"x":7.3,"y":1.9},{"x":7.6,"y":1.45},{"x":7.9,"y":1.7},{"x":8.2,"y":2.0},{"x":8.5,"y":1.55},{"x":8.8,"y":1.8},{"x":9.1,"y":1.4},{"x":9.4,"y":1.65},{"x":9.7,"y":1.9},{"x":10.0,"y":1.55},{"x":0.3,"y":0.6},{"x":0.4,"y":0.9},{"x":0.5,"y":0.45},{"x":0.55,"y":1.1},{"x":0.65,"y":0.7},{"x":0.7,"y":1.25},{"x":0.8,"y":0.5},{"x":0.85,"y":0.95},{"x":0.95,"y":0.6},{"x":1.0,"y":1.15},{"x":1.1,"y":0.75},{"x":1.15,"y":0.45},{"x":1.25,"y":1.0},{"x":1.3,"y":0.65},{"x":1.4,"y":1.2},{"x":1.5,"y":0.5},{"x":1.55,"y":0.85},{"x":1.65,"y":1.05},{"x":1.7,"y":0.6},{"x":1.8,"y":0.4},{"x":1.85,"y":0.95},{"x":1.95,"y":0.7},{"x":2.05,"y":1.2},{"x":2.1,"y":0.5},{"x":2.2,"y":0.85},{"x":2.3,"y":0.6},{"x":2.35,"y":1.05},{"x":2.45,"y":0.45},{"x":2.55,"y":0.75},{"x":2.65,"y":1.15},{"x":2.7,"y":0.55},{"x":2.8,"y":0.9},{"x":2.9,"y":0.4},{"x":3.0,"y":0.7},{"x":3.1,"y":1.1},{"x":3.2,"y":0.5},{"x":3.3,"y":0.85},{"x":3.4,"y":0.6},{"x":3.5,"y":1.0},{"x":3.6,"y":0.45},{"x":3.7,"y":0.75},{"x":3.8,"y":1.2},{"x":3.9,"y":0.55},{"x":4.0,"y":0.9},{"x":4.1,"y":0.65},{"x":4.2,"y":1.05},{"x":4.3,"y":0.45},{"x":4.4,"y":0.8},{"x":4.5,"y":1.25},{"x":4.6,"y":0.6},{"x":4.7,"y":0.95},{"x":4.8,"y":0.5},{"x":4.9,"y":1.1},{"x":5.0,"y":0.7},{"x":5.1,"y":0.9},{"x":5.2,"y":0.55},{"x":5.3,"y":1.2},{"x":5.45,"y":0.75},{"x":5.6,"y":1.0},{"x":5.75,"y":0.6},{"x":5.9,"y":0.85},{"x":6.05,"y":1.15},{"x":6.2,"y":0.65},{"x":6.35,"y":0.95},{"x":6.5,"y":0.5},{"x":6.65,"y":1.1},{"x":6.8,"y":0.8},{"x":6.95,"y":1.3},{"x":7.1,"y":0.65},{"x":7.25,"y":1.0},{"x":7.4,"y":0.55},{"x":7.55,"y":0.85},{"x":7.7,"y":1.2},{"x":7.85,"y":0.7},{"x":8.0,"y":1.05},{"x":8.15,"y":0.6},{"x":8.3,"y":0.9},{"x":8.45,"y":1.25},{"x":8.6,"y":0.75},{"x":8.75,"y":1.0},{"x":8.9,"y":0.55},{"x":9.05,"y":1.15},{"x":9.2,"y":0.8},{"x":9.35,"y":1.0},{"x":9.5,"y":0.65},{"x":9.65,"y":1.2},{"x":9.8,"y":0.85},{"x":9.9,"y":0.6},{"x":10.0,"y":1.0},{"x":0.3,"y":0.8},{"x":0.35,"y":1.2},{"x":0.4,"y":0.5},{"x":0.45,"y":0.95},{"x":0.5,"y":1.3},{"x":0.55,"y":0.65},{"x":0.6,"y":0.9},{"x":0.65,"y":1.5},{"x":0.7,"y":0.55},{"x":0.75,"y":0.85},{"x":0.8,"y":1.1},{"x":0.85,"y":0.6},{"x":0.9,"y":0.8},{"x":0.95,"y":1.3},{"x":1.0,"y":0.5},{"x":1.05,"y":0.9},{"x":1.1,"y":1.05},{"x":1.15,"y":0.7},{"x":1.2,"y":0.55},{"x":1.25,"y":1.35},{"x":1.3,"y":0.8},{"x":1.35,"y":1.0},{"x":1.4,"y":0.55},{"x":1.45,"y":0.75},{"x":1.5,"y":1.25},{"x":1.55,"y":0.6},{"x":1.6,"y":0.9},{"x":1.65,"y":0.45},{"x":1.7,"y":1.1},{"x":1.75,"y":0.7},{"x":1.8,"y":0.85},{"x":1.85,"y":1.35},{"x":1.9,"y":0.55},{"x":1.95,"y":1.0},{"x":2.0,"y":0.75},{"x":2.05,"y":0.45},{"x":2.1,"y":1.15},{"x":2.15,"y":0.65},{"x":2.2,"y":1.0},{"x":2.25,"y":0.55},{"x":2.3,"y":0.8},{"x":2.4,"y":1.25},{"x":2.5,"y":0.6},{"x":2.6,"y":0.9},{"x":2.7,"y":1.35},{"x":2.8,"y":0.5},{"x":2.9,"y":0.75},{"x":3.0,"y":1.2},{"x":3.1,"y":0.6},{"x":3.2,"y":0.9},{"x":3.3,"y":1.4},{"x":3.4,"y":0.5},{"x":3.5,"y":0.75},{"x":3.6,"y":1.1},{"x":3.7,"y":0.55},{"x":3.8,"y":0.9},{"x":3.9,"y":1.3},{"x":4.0,"y":0.65},{"x":4.1,"y":0.45},{"x":4.2,"y":1.25},{"x":4.3,"y":0.75},{"x":4.4,"y":1.0},{"x":4.5,"y":0.55},{"x":4.6,"y":1.15},{"x":4.7,"y":0.8},{"x":4.8,"y":1.4},{"x":4.9,"y":0.6},{"x":5.0,"y":1.0},{"x":5.2,"y":0.75},{"x":5.4,"y":1.3},{"x":5.6,"y":0.6},{"x":5.8,"y":1.1},{"x":6.0,"y":0.8},{"x":6.2,"y":1.35},{"x":6.4,"y":0.7},{"x":6.6,"y":1.0},{"x":6.8,"y":0.55},{"x":7.0,"y":1.25},{"x":7.2,"y":0.85},{"x":7.4,"y":1.45},{"x":7.6,"y":0.65},{"x":7.8,"y":1.05},{"x":8.0,"y":0.8},{"x":8.2,"y":1.35},{"x":8.4,"y":0.6},{"x":8.6,"y":1.1},{"x":8.8,"y":0.85},{"x":9.0,"y":1.45},{"x":9.2,"y":0.65},{"x":9.4,"y":1.2},{"x":9.6,"y":0.95},{"x":9.8,"y":1.4},{"x":10.0,"y":0.8},{"x":0.35,"y":0.7},{"x":0.4,"y":1.05},{"x":0.5,"y":0.6},{"x":0.55,"y":0.85},{"x":0.6,"y":0.5},{"x":0.65,"y":1.1},{"x":0.7,"y":0.8},{"x":0.8,"y":0.65},{"x":0.85,"y":1.2},{"x":0.9,"y":0.45},{"x":1.0,"y":0.7},{"x":1.05,"y":0.55},{"x":1.1,"y":0.9},{"x":1.2,"y":0.75},{"x":1.25,"y":0.5},{"x":1.3,"y":1.1},{"x":1.4,"y":0.85},{"x":1.45,"y":0.6},{"x":1.5,"y":0.7},{"x":1.6,"y":1.15},{"x":1.65,"y":0.75},{"x":1.75,"y":0.5},{"x":1.8,"y":1.0},{"x":1.9,"y":0.8},{"x":2.0,"y":0.55},{"x":2.1,"y":0.9},{"x":2.2,"y":0.7},{"x":2.3,"y":1.3},{"x":2.4,"y":0.5},{"x":2.5,"y":0.85},{"x":2.6,"y":0.65},{"x":2.75,"y":1.05},{"x":2.85,"y":0.7},{"x":3.0,"y":0.5},{"x":3.15,"y":0.8},{"x":3.3,"y":0.55},{"x":3.45,"y":0.95},{"x":3.6,"y":0.65},{"x":3.75,"y":1.05},{"x":3.9,"y":0.75}]
},
"hconcat":[
{"width":330,"height":311,"title":"T < 0.2s",
 "layer":[
  {"data":{"name":"g1"},"mark":{"type":"point","opacity":0},
   "encoding":{"x":{"field":"x","type":"quantitative","scale":{"domain":[0,10],"nice":false,"zero":false},"axis":{"orient":"top","values":[0.5,1,1.5,2.5,3,3.5,4.5,5,5.5,6.5,7,7.5,8.5,9,9.5],"grid":true,"gridDash":[1,3],"gridColor":"#a8a8a8","labels":false,"ticks":false,"domain":false,"title":null}},
    "y":{"field":"y","type":"quantitative","scale":{"domain":[0,5],"nice":false,"zero":false},"axis":{"orient":"right","values":[0.2,0.4,0.6,0.8,1.2,1.4,1.6,1.8,2.2,2.4,2.6,2.8,3.2,3.4,3.6,3.8,4.2,4.4,4.6,4.8],"grid":true,"gridDash":[1,3],"gridColor":"#a8a8a8","labels":false,"ticks":false,"domain":false,"title":null}}}},
  {"data":{"name":"g1"},"mark":{"type":"circle","size":40,"opacity":1,"color":"#008000"},
   "encoding":{"x":{"field":"x","type":"quantitative","axis":{"orient":"bottom","values":[0,2,4,6,8,10],"grid":true,"title":"Scale Factor,  SF"}},
    "y":{"field":"y","type":"quantitative","axis":{"orient":"left","values":[0,1,2,3,4,5],"grid":true,"title":"Residual, ε"}}}},
  {"data":{"name":"r1"},"mark":{"type":"circle","size":40,"opacity":1,"color":"#ff0000"},
   "encoding":{"x":{"field":"x","type":"quantitative","axis":null},"y":{"field":"y","type":"quantitative","axis":null}}},
  {"data":{"values":[{"x":0.65,"y":0.9},{"x":10,"y":1.078}]},"mark":{"type":"line","color":"#000000","strokeWidth":2},
   "encoding":{"x":{"field":"x","type":"quantitative","axis":null},"y":{"field":"y","type":"quantitative","axis":null}}},
  {"data":{"values":[{"x":0.65,"y":0.84},{"x":10,"y":0.978}]},"mark":{"type":"line","color":"#000000","strokeWidth":2,"strokeDash":[9,6]},
   "encoding":{"x":{"field":"x","type":"quantitative","axis":null},"y":{"field":"y","type":"quantitative","axis":null}}},
  {"data":{"values":[{}]},"layer":[
   {"mark":{"type":"rect","fill":"white","stroke":"#262626","strokeWidth":1},"encoding":{"x":{"datum":3.78,"type":"quantitative","axis":null},"x2":{"datum":9.58},"y":{"datum":4.77,"type":"quantitative","axis":null},"y2":{"datum":3.0}}},
   {"mark":{"type":"circle","size":40,"opacity":1,"color":"#008000"},"encoding":{"x":{"datum":4.68,"type":"quantitative","axis":null},"y":{"datum":4.58,"type":"quantitative","axis":null}}},
   {"mark":{"type":"circle","size":40,"opacity":1,"color":"#ff0000"},"encoding":{"x":{"datum":4.68,"type":"quantitative","axis":null},"y":{"datum":4.23,"type":"quantitative","axis":null}}},
   {"mark":{"type":"rule","strokeWidth":2,"color":"#000000"},"encoding":{"x":{"datum":3.99,"type":"quantitative","axis":null},"x2":{"datum":5.35},"y":{"datum":3.84,"type":"quantitative","axis":null}}},
   {"mark":{"type":"rule","strokeWidth":2,"color":"#000000","strokeDash":[17,8]},"encoding":{"x":{"datum":3.99,"type":"quantitative","axis":null},"x2":{"datum":5.35},"y":{"datum":3.47,"type":"quantitative","axis":null}}},
   {"mark":{"type":"text","font":"Liberation Serif, Times New Roman, serif","text":"Sa(T)","align":"left","baseline":"middle","fontStyle":"italic","fontSize":18},"encoding":{"x":{"datum":5.47,"type":"quantitative","axis":null},"y":{"datum":4.58,"type":"quantitative","axis":null}}},
   {"mark":{"type":"text","font":"Liberation Serif, Times New Roman, serif","text":"Sa","align":"left","baseline":"middle","fontStyle":"italic","fontSize":18},"encoding":{"x":{"datum":5.47,"type":"quantitative","axis":null},"y":{"datum":4.26,"type":"quantitative","axis":null}}},
   {"mark":{"type":"text","font":"Liberation Serif, Times New Roman, serif","text":"avg","align":"left","baseline":"middle","fontStyle":"italic","fontSize":13},"encoding":{"x":{"datum":6.01,"type":"quantitative","axis":null},"y":{"datum":4.07,"type":"quantitative","axis":null}}},
   {"mark":{"type":"text","font":"Liberation Serif, Times New Roman, serif","text":"ε","align":"left","baseline":"middle","fontSize":18},"encoding":{"x":{"datum":5.47,"type":"quantitative","axis":null},"y":{"datum":3.86,"type":"quantitative","axis":null}}},
   {"mark":{"type":"text","font":"Liberation Serif, Times New Roman, serif","text":"Sa(T)","align":"left","baseline":"middle","fontSize":13},"encoding":{"x":{"datum":5.71,"type":"quantitative","axis":null},"y":{"datum":3.69,"type":"quantitative","axis":null}}},
   {"mark":{"type":"text","font":"Liberation Serif, Times New Roman, serif","text":"= 0.0190 SF","align":"left","baseline":"middle","fontSize":18},"encoding":{"x":{"datum":6.8,"type":"quantitative","axis":null},"y":{"datum":3.84,"type":"quantitative","axis":null}}},
   {"mark":{"type":"text","font":"Liberation Serif, Times New Roman, serif","text":"ε","align":"left","baseline":"middle","fontSize":18},"encoding":{"x":{"datum":5.47,"type":"quantitative","axis":null},"y":{"datum":3.54,"type":"quantitative","axis":null}}},
   {"mark":{"type":"text","font":"Liberation Serif, Times New Roman, serif","text":"Sa","align":"left","baseline":"middle","fontSize":13},"encoding":{"x":{"datum":5.71,"type":"quantitative","axis":null},"y":{"datum":3.41,"type":"quantitative","axis":null}}},
   {"mark":{"type":"text","font":"Liberation Serif, Times New Roman, serif","text":"avg","align":"left","baseline":"middle","fontSize":10},"encoding":{"x":{"datum":6.16,"type":"quantitative","axis":null},"y":{"datum":3.21,"type":"quantitative","axis":null}}},
   {"mark":{"type":"text","font":"Liberation Serif, Times New Roman, serif","text":"= 0.0148 SF","align":"left","baseline":"middle","fontSize":18},"encoding":{"x":{"datum":6.8,"type":"quantitative","axis":null},"y":{"datum":3.5,"type":"quantitative","axis":null}}}
  ]}
 ],
 "resolve":{"axis":{"x":"independent","y":"independent"}}
},
{"width":330,"height":311,"title":"0.2s < T < 0.5s",
 "layer":[
  {"data":{"name":"g2"},"mark":{"type":"point","opacity":0},
   "encoding":{"x":{"field":"x","type":"quantitative","scale":{"domain":[0,10],"nice":false,"zero":false},"axis":{"orient":"top","values":[0.5,1,1.5,2.5,3,3.5,4.5,5,5.5,6.5,7,7.5,8.5,9,9.5],"grid":true,"gridDash":[1,3],"gridColor":"#a8a8a8","labels":false,"ticks":false,"domain":false,"title":null}},
    "y":{"field":"y","type":"quantitative","scale":{"domain":[0,5],"nice":false,"zero":false},"axis":{"orient":"right","values":[0.2,0.4,0.6,0.8,1.2,1.4,1.6,1.8,2.2,2.4,2.6,2.8,3.2,3.4,3.6,3.8,4.2,4.4,4.6,4.8],"grid":true,"gridDash":[1,3],"gridColor":"#a8a8a8","labels":false,"ticks":false,"domain":false,"title":null}}}},
  {"data":{"name":"g2"},"mark":{"type":"circle","size":40,"opacity":1,"color":"#008000"},
   "encoding":{"x":{"field":"x","type":"quantitative","axis":{"orient":"bottom","values":[0,2,4,6,8,10],"grid":true,"title":"Scale Factor,  SF"}},
    "y":{"field":"y","type":"quantitative","axis":{"orient":"left","values":[0,1,2,3,4,5],"grid":true,"title":null}}}},
  {"data":{"name":"r2"},"mark":{"type":"circle","size":40,"opacity":1,"color":"#ff0000"},
   "encoding":{"x":{"field":"x","type":"quantitative","axis":null},"y":{"field":"y","type":"quantitative","axis":null}}},
  {"data":{"values":[{"x":0.5,"y":0.9},{"x":10,"y":1.23}]},"mark":{"type":"line","color":"#000000","strokeWidth":2},
   "encoding":{"x":{"field":"x","type":"quantitative","axis":null},"y":{"field":"y","type":"quantitative","axis":null}}},
  {"data":{"values":[{"x":0.5,"y":1.07},{"x":10,"y":1.225}]},"mark":{"type":"line","color":"#000000","strokeWidth":2,"strokeDash":[9,6]},
   "encoding":{"x":{"field":"x","type":"quantitative","axis":null},"y":{"field":"y","type":"quantitative","axis":null}}},
  {"data":{"values":[{}]},"layer":[
   {"mark":{"type":"rect","fill":"white","stroke":"#262626","strokeWidth":1},"encoding":{"x":{"datum":3.74,"type":"quantitative","axis":null},"x2":{"datum":9.6},"y":{"datum":4.76,"type":"quantitative","axis":null},"y2":{"datum":3.0}}},
   {"mark":{"type":"circle","size":40,"opacity":1,"color":"#008000"},"encoding":{"x":{"datum":4.65,"type":"quantitative","axis":null},"y":{"datum":4.58,"type":"quantitative","axis":null}}},
   {"mark":{"type":"circle","size":40,"opacity":1,"color":"#ff0000"},"encoding":{"x":{"datum":4.65,"type":"quantitative","axis":null},"y":{"datum":4.23,"type":"quantitative","axis":null}}},
   {"mark":{"type":"rule","strokeWidth":2,"color":"#000000"},"encoding":{"x":{"datum":3.95,"type":"quantitative","axis":null},"x2":{"datum":5.32},"y":{"datum":3.84,"type":"quantitative","axis":null}}},
   {"mark":{"type":"rule","strokeWidth":2,"color":"#000000","strokeDash":[17,8]},"encoding":{"x":{"datum":3.95,"type":"quantitative","axis":null},"x2":{"datum":5.32},"y":{"datum":3.47,"type":"quantitative","axis":null}}},
   {"mark":{"type":"text","font":"Liberation Serif, Times New Roman, serif","text":"Sa(T)","align":"left","baseline":"middle","fontStyle":"italic","fontSize":18},"encoding":{"x":{"datum":5.44,"type":"quantitative","axis":null},"y":{"datum":4.58,"type":"quantitative","axis":null}}},
   {"mark":{"type":"text","font":"Liberation Serif, Times New Roman, serif","text":"Sa","align":"left","baseline":"middle","fontStyle":"italic","fontSize":18},"encoding":{"x":{"datum":5.44,"type":"quantitative","axis":null},"y":{"datum":4.26,"type":"quantitative","axis":null}}},
   {"mark":{"type":"text","font":"Liberation Serif, Times New Roman, serif","text":"avg","align":"left","baseline":"middle","fontStyle":"italic","fontSize":13},"encoding":{"x":{"datum":5.98,"type":"quantitative","axis":null},"y":{"datum":4.07,"type":"quantitative","axis":null}}},
   {"mark":{"type":"text","font":"Liberation Serif, Times New Roman, serif","text":"ε","align":"left","baseline":"middle","fontSize":18},"encoding":{"x":{"datum":5.47,"type":"quantitative","axis":null},"y":{"datum":3.86,"type":"quantitative","axis":null}}},
   {"mark":{"type":"text","font":"Liberation Serif, Times New Roman, serif","text":"Sa(T)","align":"left","baseline":"middle","fontSize":13},"encoding":{"x":{"datum":5.71,"type":"quantitative","axis":null},"y":{"datum":3.69,"type":"quantitative","axis":null}}},
   {"mark":{"type":"text","font":"Liberation Serif, Times New Roman, serif","text":"= 0.0350 SF","align":"left","baseline":"middle","fontSize":18},"encoding":{"x":{"datum":6.77,"type":"quantitative","axis":null},"y":{"datum":3.84,"type":"quantitative","axis":null}}},
   {"mark":{"type":"text","font":"Liberation Serif, Times New Roman, serif","text":"ε","align":"left","baseline":"middle","fontSize":18},"encoding":{"x":{"datum":5.47,"type":"quantitative","axis":null},"y":{"datum":3.54,"type":"quantitative","axis":null}}},
   {"mark":{"type":"text","font":"Liberation Serif, Times New Roman, serif","text":"Sa","align":"left","baseline":"middle","fontSize":13},"encoding":{"x":{"datum":5.71,"type":"quantitative","axis":null},"y":{"datum":3.41,"type":"quantitative","axis":null}}},
   {"mark":{"type":"text","font":"Liberation Serif, Times New Roman, serif","text":"avg","align":"left","baseline":"middle","fontSize":10},"encoding":{"x":{"datum":6.16,"type":"quantitative","axis":null},"y":{"datum":3.21,"type":"quantitative","axis":null}}},
   {"mark":{"type":"text","font":"Liberation Serif, Times New Roman, serif","text":"= 0.0163 SF","align":"left","baseline":"middle","fontSize":18},"encoding":{"x":{"datum":6.77,"type":"quantitative","axis":null},"y":{"datum":3.5,"type":"quantitative","axis":null}}}
  ]}
 ],
 "resolve":{"axis":{"x":"independent","y":"independent"}}
},
{"width":330,"height":311,"title":"T > 0.5s",
 "layer":[
  {"data":{"name":"g3"},"mark":{"type":"point","opacity":0},
   "encoding":{"x":{"field":"x","type":"quantitative","scale":{"domain":[0,10],"nice":false,"zero":false},"axis":{"orient":"top","values":[0.5,1,1.5,2.5,3,3.5,4.5,5,5.5,6.5,7,7.5,8.5,9,9.5],"grid":true,"gridDash":[1,3],"gridColor":"#a8a8a8","labels":false,"ticks":false,"domain":false,"title":null}},
    "y":{"field":"y","type":"quantitative","scale":{"domain":[0,5],"nice":false,"zero":false},"axis":{"orient":"right","values":[0.2,0.4,0.6,0.8,1.2,1.4,1.6,1.8,2.2,2.4,2.6,2.8,3.2,3.4,3.6,3.8,4.2,4.4,4.6,4.8],"grid":true,"gridDash":[1,3],"gridColor":"#a8a8a8","labels":false,"ticks":false,"domain":false,"title":null}}}},
  {"data":{"name":"g3"},"mark":{"type":"circle","size":40,"opacity":1,"color":"#008000"},
   "encoding":{"x":{"field":"x","type":"quantitative","axis":{"orient":"bottom","values":[0,2,4,6,8,10],"grid":true,"title":"Scale Factor,  SF"}},
    "y":{"field":"y","type":"quantitative","axis":{"orient":"left","values":[0,1,2,3,4,5],"grid":true,"title":null}}}},
  {"data":{"name":"r3"},"mark":{"type":"circle","size":40,"opacity":1,"color":"#ff0000"},
   "encoding":{"x":{"field":"x","type":"quantitative","axis":null},"y":{"field":"y","type":"quantitative","axis":null}}},
  {"data":{"values":[{"x":0.3,"y":0.87},{"x":10,"y":1.5}]},"mark":{"type":"line","color":"#000000","strokeWidth":2},
   "encoding":{"x":{"field":"x","type":"quantitative","axis":null},"y":{"field":"y","type":"quantitative","axis":null}}},
  {"data":{"values":[{"x":0.3,"y":1.17},{"x":10,"y":1.284}]},"mark":{"type":"line","color":"#000000","strokeWidth":2,"strokeDash":[9,6]},
   "encoding":{"x":{"field":"x","type":"quantitative","axis":null},"y":{"field":"y","type":"quantitative","axis":null}}},
  {"data":{"values":[{}]},"layer":[
   {"mark":{"type":"rect","fill":"white","stroke":"#262626","strokeWidth":1},"encoding":{"x":{"datum":3.55,"type":"quantitative","axis":null},"x2":{"datum":9.6},"y":{"datum":4.76,"type":"quantitative","axis":null},"y2":{"datum":3.0}}},
   {"mark":{"type":"circle","size":40,"opacity":1,"color":"#008000"},"encoding":{"x":{"datum":4.45,"type":"quantitative","axis":null},"y":{"datum":4.58,"type":"quantitative","axis":null}}},
   {"mark":{"type":"circle","size":40,"opacity":1,"color":"#ff0000"},"encoding":{"x":{"datum":4.45,"type":"quantitative","axis":null},"y":{"datum":4.23,"type":"quantitative","axis":null}}},
   {"mark":{"type":"rule","strokeWidth":2,"color":"#000000"},"encoding":{"x":{"datum":3.79,"type":"quantitative","axis":null},"x2":{"datum":5.15},"y":{"datum":3.84,"type":"quantitative","axis":null}}},
   {"mark":{"type":"rule","strokeWidth":2,"color":"#000000","strokeDash":[17,8]},"encoding":{"x":{"datum":3.79,"type":"quantitative","axis":null},"x2":{"datum":5.15},"y":{"datum":3.47,"type":"quantitative","axis":null}}},
   {"mark":{"type":"text","font":"Liberation Serif, Times New Roman, serif","text":"Sa(T)","align":"left","baseline":"middle","fontStyle":"italic","fontSize":18},"encoding":{"x":{"datum":5.27,"type":"quantitative","axis":null},"y":{"datum":4.58,"type":"quantitative","axis":null}}},
   {"mark":{"type":"text","font":"Liberation Serif, Times New Roman, serif","text":"Sa","align":"left","baseline":"middle","fontStyle":"italic","fontSize":18},"encoding":{"x":{"datum":5.27,"type":"quantitative","axis":null},"y":{"datum":4.26,"type":"quantitative","axis":null}}},
   {"mark":{"type":"text","font":"Liberation Serif, Times New Roman, serif","text":"avg","align":"left","baseline":"middle","fontStyle":"italic","fontSize":13},"encoding":{"x":{"datum":5.81,"type":"quantitative","axis":null},"y":{"datum":4.07,"type":"quantitative","axis":null}}},
   {"mark":{"type":"text","font":"Liberation Serif, Times New Roman, serif","text":"ε","align":"left","baseline":"middle","fontSize":18},"encoding":{"x":{"datum":5.3,"type":"quantitative","axis":null},"y":{"datum":3.86,"type":"quantitative","axis":null}}},
   {"mark":{"type":"text","font":"Liberation Serif, Times New Roman, serif","text":"Sa(T","align":"left","baseline":"middle","fontSize":13},"encoding":{"x":{"datum":5.52,"type":"quantitative","axis":null},"y":{"datum":3.69,"type":"quantitative","axis":null}}},
   {"mark":{"type":"text","font":"Liberation Serif, Times New Roman, serif","text":"*","align":"left","baseline":"middle","fontSize":10},"encoding":{"x":{"datum":6.2,"type":"quantitative","axis":null},"y":{"datum":3.88,"type":"quantitative","axis":null}}},
   {"mark":{"type":"text","font":"Liberation Serif, Times New Roman, serif","text":")","align":"left","baseline":"middle","fontSize":13},"encoding":{"x":{"datum":6.33,"type":"quantitative","axis":null},"y":{"datum":3.69,"type":"quantitative","axis":null}}},
   {"mark":{"type":"text","font":"Liberation Serif, Times New Roman, serif","text":"= 0.0646 SF","align":"left","baseline":"middle","fontSize":18},"encoding":{"x":{"datum":6.58,"type":"quantitative","axis":null},"y":{"datum":3.84,"type":"quantitative","axis":null}}},
   {"mark":{"type":"text","font":"Liberation Serif, Times New Roman, serif","text":"ε","align":"left","baseline":"middle","fontSize":18},"encoding":{"x":{"datum":5.3,"type":"quantitative","axis":null},"y":{"datum":3.54,"type":"quantitative","axis":null}}},
   {"mark":{"type":"text","font":"Liberation Serif, Times New Roman, serif","text":"Sa","align":"left","baseline":"middle","fontSize":13},"encoding":{"x":{"datum":5.52,"type":"quantitative","axis":null},"y":{"datum":3.41,"type":"quantitative","axis":null}}},
   {"mark":{"type":"text","font":"Liberation Serif, Times New Roman, serif","text":"avg","align":"left","baseline":"middle","fontSize":10},"encoding":{"x":{"datum":5.97,"type":"quantitative","axis":null},"y":{"datum":3.21,"type":"quantitative","axis":null}}},
   {"mark":{"type":"text","font":"Liberation Serif, Times New Roman, serif","text":"= 0.0118 SF","align":"left","baseline":"middle","fontSize":18},"encoding":{"x":{"datum":6.58,"type":"quantitative","axis":null},"y":{"datum":3.5,"type":"quantitative","axis":null}}}
  ]}
 ],
 "resolve":{"axis":{"x":"independent","y":"independent"}}
}
]
}
